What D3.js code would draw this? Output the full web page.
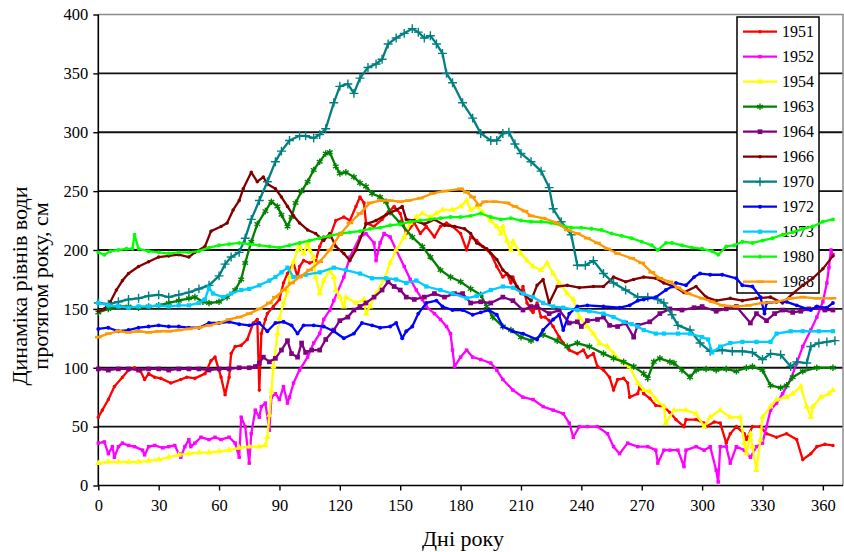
<!DOCTYPE html>
<html>
<head>
<meta charset="utf-8">
<script src="https://cdn.jsdelivr.net/npm/d3@7"></script>
<style>
  body { margin: 0; background: #fff; }
  svg { display: block; }
</style>
</head>
<body>
<svg id="chart" width="844" height="552"></svg>
<script>
// Axis ticks
const dayTicks = [0, 30, 60, 90, 120, 150, 180, 210, 240, 270, 300, 330, 360];
const levelTicks = [0, 50, 100, 150, 200, 250, 300, 350, 400];

// Years shown in the legend (drawing order)
const years = ["1951", "1952", "1954", "1963", "1964", "1966", "1970", "1972", "1973", "1980", "1988"];

// Water level (cm) by day of year, [day, level]
const level1951 = [[0,58],[2,64],[5,73],[8,84],[12,92],[15,98],[18,100],[21,97],[23,90],[25,95],[28,92],[31,91],[36,87],[41,90],[44,92],[48,91],[53,95],[56,106],[58,109],[61,92],[63,77],[65,92],[66,112],[68,118],[71,119],[74,124],[77,138],[79,141],[80,81],[81,129],[83,141],[84,146],[87,152],[90,158],[92,172],[94,180],[97,189],[99,177],[100,186],[102,191],[105,189],[108,191],[110,203],[112,211],[115,211],[118,225],[122,228],[125,225],[128,237],[130,245],[132,240],[133,223],[137,220],[141,226],[144,232],[147,237],[150,231],[153,214],[157,223],[160,214],[163,220],[167,211],[170,220],[173,223],[176,220],[180,214],[183,200],[185,211],[188,208],[191,203],[195,197],[198,186],[201,177],[203,180],[205,172],[206,177],[208,169],[210,163],[211,169],[213,155],[215,149],[216,147],[218,155],[220,143],[222,143],[224,140],[226,135],[229,126],[231,121],[234,115],[238,112],[241,115],[243,109],[246,112],[248,101],[251,98],[254,92],[256,81],[258,90],[261,91],[263,87],[264,75],[268,78],[269,84],[271,78],[274,74],[277,68],[281,67],[284,62],[287,56],[291,50],[292,56],[297,56],[301,53],[302,50],[306,54],[309,53],[312,36],[314,44],[317,50],[321,44],[322,39],[325,50],[329,50],[332,44],[337,41],[342,44],[347,39],[350,22],[354,27],[357,33],[361,35],[365,34]];

const level1952 = [[0,36],[3,37],[5,27],[7,33],[8,24],[10,33],[12,36],[15,34],[18,33],[22,30],[23,26],[25,33],[28,34],[32,32],[35,33],[38,34],[40,27],[41,24],[43,33],[45,39],[46,33],[48,36],[51,41],[55,39],[58,41],[61,39],[65,41],[68,36],[70,24],[71,58],[73,50],[75,19],[76,44],[78,64],[80,58],[81,67],[83,70],[85,47],[86,75],[88,78],[90,73],[92,84],[94,70],[95,75],[97,87],[100,98],[104,109],[107,121],[110,129],[112,141],[115,149],[117,157],[122,177],[125,194],[130,211],[133,214],[137,206],[138,191],[140,206],[142,214],[145,211],[148,200],[152,186],[155,175],[158,166],[161,158],[163,152],[167,146],[170,141],[173,135],[175,129],[176,115],[177,101],[180,109],[183,115],[186,109],[190,107],[195,104],[198,98],[201,90],[206,81],[211,75],[216,73],[221,67],[226,64],[231,61],[234,53],[236,41],[239,50],[243,50],[248,50],[253,44],[256,33],[259,27],[263,36],[268,33],[273,33],[277,30],[278,19],[281,30],[284,30],[288,30],[291,16],[292,30],[297,33],[301,30],[304,33],[307,13],[308,3],[309,33],[312,33],[314,19],[317,33],[321,30],[324,24],[327,33],[330,36],[332,50],[334,64],[337,70],[340,78],[344,90],[347,104],[350,118],[354,132],[357,143],[360,156],[362,172],[363,185],[364,200],[365,196]];

const level1954 = [[0,19],[5,20],[10,20],[15,20],[20,20],[25,21],[30,22],[35,24],[40,26],[45,27],[50,28],[55,28],[60,29],[65,30],[70,32],[75,33],[80,33],[83,34],[84,41],[85,60],[86,80],[87,101],[89,129],[90,142],[92,155],[94,165],[95,177],[97,190],[99,200],[100,203],[102,197],[104,206],[105,200],[107,194],[108,177],[110,163],[112,174],[115,183],[117,177],[118,166],[120,160],[122,152],[123,160],[128,155],[132,158],[133,146],[135,152],[138,163],[142,175],[145,189],[148,200],[152,211],[155,223],[158,228],[161,231],[165,228],[168,231],[171,234],[176,234],[180,237],[183,242],[185,234],[188,237],[191,232],[195,225],[198,220],[200,214],[201,220],[203,208],[205,200],[206,207],[210,197],[213,191],[216,186],[220,183],[223,189],[226,180],[229,172],[233,163],[236,158],[239,143],[243,135],[246,129],[249,121],[253,118],[256,112],[261,104],[264,101],[268,87],[271,81],[274,80],[277,73],[281,67],[282,53],[286,64],[292,64],[297,61],[301,50],[304,58],[309,64],[314,58],[319,58],[321,36],[322,27],[324,44],[325,33],[327,13],[329,39],[330,58],[334,67],[337,73],[342,75],[345,78],[349,84],[352,67],[354,58],[355,67],[359,75],[363,78],[365,81]];

const level1963 = [[0,147],[5,150],[10,152],[15,152],[20,151],[25,152],[30,153],[35,155],[40,157],[45,159],[48,160],[52,156],[55,155],[60,156],[64,160],[68,166],[71,175],[73,189],[76,207],[79,222],[83,233],[86,241],[89,237],[91,230],[94,220],[96,228],[98,240],[101,250],[104,258],[107,268],[110,275],[113,282],[115,283],[118,271],[120,265],[123,266],[127,262],[130,257],[133,254],[136,248],[140,245],[143,241],[145,232],[150,223],[156,211],[161,203],[165,194],[170,183],[175,177],[180,173],[185,167],[190,162],[193,152],[196,143],[201,135],[205,132],[210,126],[215,123],[221,128],[228,123],[233,118],[238,121],[244,118],[251,112],[256,108],[261,105],[266,101],[271,95],[273,91],[276,105],[279,108],[284,105],[286,104],[290,98],[294,92],[297,98],[302,99],[307,98],[312,99],[317,97],[322,100],[325,101],[330,98],[334,85],[339,83],[342,85],[345,92],[350,97],[357,100],[365,100]];

const level1964 = [[0,99],[5,98],[10,99],[15,99],[20,98],[25,99],[30,99],[35,98],[40,99],[45,99],[50,99],[55,98],[60,99],[65,99],[70,100],[75,100],[78,101],[80,104],[82,109],[85,105],[88,108],[91,115],[94,123],[96,112],[99,109],[101,121],[103,113],[106,115],[110,115],[113,124],[117,132],[120,140],[124,143],[127,149],[130,152],[133,155],[137,160],[141,166],[144,173],[147,169],[150,166],[153,160],[157,158],[162,160],[167,163],[172,160],[177,163],[181,163],[185,155],[190,156],[195,155],[201,160],[206,157],[211,149],[215,152],[218,152],[224,146],[229,149],[234,138],[238,139],[240,135],[243,140],[248,141],[251,143],[254,136],[258,135],[262,138],[266,126],[268,136],[274,139],[279,146],[284,150],[290,149],[296,151],[300,152],[307,148],[312,150],[317,152],[324,138],[327,146],[332,140],[336,146],[340,149],[345,147],[349,148],[353,150],[357,151],[361,149],[365,149]];

const level1966 = [[0,148],[3,150],[6,156],[9,166],[12,174],[15,180],[20,186],[25,190],[30,194],[35,195],[40,196],[45,194],[48,198],[53,203],[56,216],[61,220],[64,223],[67,234],[70,242],[72,252],[76,266],[79,258],[82,262],[84,256],[88,252],[91,245],[94,237],[97,229],[100,223],[104,217],[108,214],[112,208],[115,214],[118,203],[122,197],[125,191],[128,200],[133,222],[138,225],[143,230],[148,234],[151,237],[153,226],[157,225],[162,222],[167,226],[172,221],[177,220],[182,218],[185,214],[188,206],[193,201],[198,192],[201,183],[205,177],[208,169],[211,163],[215,157],[218,170],[221,175],[224,155],[228,169],[233,170],[239,168],[246,169],[251,169],[256,177],[262,173],[266,175],[271,177],[277,176],[281,172],[286,169],[291,164],[297,169],[302,160],[307,157],[314,159],[320,157],[327,159],[334,160],[340,155],[345,163],[350,170],[355,176],[360,184],[365,195]];

const level1970 = [[0,155],[5,154],[10,156],[15,158],[20,159],[25,161],[30,162],[35,160],[40,162],[45,164],[50,167],[55,170],[60,178],[63,188],[66,194],[70,198],[73,210],[76,226],[80,242],[84,258],[88,275],[91,284],[95,293],[100,297],[103,297],[107,295],[110,298],[113,303],[117,325],[120,339],[124,341],[127,333],[130,346],[134,355],[138,358],[141,362],[144,375],[148,380],[152,384],[156,388],[159,385],[162,380],[165,382],[168,375],[171,367],[173,350],[176,342],[181,325],[186,312],[190,299],[195,293],[198,293],[201,299],[204,300],[207,290],[210,282],[215,275],[220,267],[224,253],[226,235],[230,224],[235,213],[238,187],[242,187],[246,191],[251,180],[256,172],[262,166],[268,160],[273,160],[278,158],[281,155],[285,145],[288,136],[294,132],[299,121],[304,114],[310,115],[315,114],[320,114],[325,113],[330,107],[334,112],[339,111],[344,101],[347,105],[352,104],[354,118],[358,121],[362,122],[366,123]];

const level1972 = [[0,133],[5,134],[10,131],[15,132],[20,134],[25,135],[30,136],[35,135],[40,135],[45,134],[50,134],[55,138],[60,138],[65,139],[70,137],[75,136],[80,138],[84,131],[88,138],[92,139],[96,136],[99,129],[102,136],[107,136],[112,135],[117,131],[122,125],[127,129],[131,138],[136,136],[140,134],[145,135],[148,138],[151,125],[153,131],[156,135],[159,146],[163,155],[168,157],[171,152],[176,149],[181,149],[186,145],[190,147],[194,149],[198,145],[201,135],[206,131],[211,129],[218,124],[221,132],[226,141],[229,145],[231,132],[234,146],[238,152],[243,153],[251,152],[259,151],[264,153],[268,157],[271,158],[277,160],[282,166],[285,169],[287,172],[292,170],[296,177],[299,180],[304,179],[310,179],[317,176],[320,170],[325,169],[329,160],[331,146],[332,155],[337,156],[342,156],[347,153],[354,149],[357,152],[362,151],[365,155]];

const level1973 = [[0,155],[5,153],[10,152],[15,151],[20,152],[25,152],[30,153],[35,152],[40,153],[45,153],[50,155],[53,158],[55,168],[57,163],[62,160],[66,163],[71,166],[75,167],[80,170],[85,174],[88,177],[91,181],[94,185],[97,177],[103,179],[110,181],[117,185],[123,183],[130,180],[136,176],[143,176],[148,175],[153,172],[158,174],[163,169],[170,166],[176,163],[183,159],[188,161],[195,166],[201,169],[206,168],[211,163],[216,160],[221,155],[226,152],[231,151],[238,149],[244,148],[251,146],[256,143],[261,139],[265,137],[268,135],[271,132],[277,129],[281,129],[288,129],[294,129],[300,126],[303,124],[305,113],[309,118],[314,121],[320,122],[327,122],[334,122],[337,129],[344,131],[350,131],[358,131],[365,131]];

const level1980 = [[0,198],[3,196],[6,199],[10,200],[14,201],[17,201],[18,213],[20,201],[25,199],[30,198],[35,197],[40,198],[45,198],[50,199],[55,202],[60,204],[65,205],[70,206],[75,205],[80,204],[85,203],[90,202],[95,204],[100,206],[105,208],[110,210],[115,212],[120,214],[125,215],[130,216],[135,218],[140,219],[145,221],[150,222],[155,224],[160,225],[165,226],[170,227],[175,228],[180,228],[185,229],[190,231],[195,228],[200,226],[205,227],[210,225],[215,224],[220,224],[225,223],[230,221],[235,219],[240,219],[245,218],[250,217],[255,214],[260,212],[265,210],[270,207],[275,204],[278,200],[282,206],[285,206],[290,204],[295,202],[300,201],[305,199],[308,196],[312,203],[316,204],[320,207],[325,206],[330,208],[335,210],[340,213],[345,215],[350,218],[355,220],[360,224],[365,226]];

const level1988 = [[0,126],[5,129],[10,131],[15,130],[20,131],[25,130],[30,131],[35,131],[40,132],[45,133],[50,134],[55,136],[60,138],[65,141],[70,143],[75,146],[80,150],[85,155],[88,160],[92,166],[96,172],[100,177],[105,183],[110,190],[115,200],[120,213],[125,223],[130,231],[135,240],[140,242],[145,242],[150,241],[154,242],[160,244],[166,248],[172,250],[180,252],[183,249],[186,245],[189,238],[192,241],[197,241],[203,240],[207,237],[212,233],[215,229],[221,227],[228,223],[233,217],[238,214],[243,210],[248,206],[253,201],[258,197],[265,193],[270,189],[275,181],[279,176],[284,173],[288,168],[293,163],[300,159],[305,156],[310,153],[317,152],[323,153],[330,155],[337,156],[344,159],[350,160],[357,159],[365,159]];

const levels = [level1951, level1952, level1954, level1963, level1964, level1966, level1970, level1972, level1973, level1980, level1988];

// ---- styling ----
const colors = ["#FF0000", "#FF00FF", "#FFFF00", "#008000", "#800080", "#800000", "#008080", "#0000FF", "#00CCFF", "#00FF00", "#FF9900"];
const serif = "'Liberation Serif'";

const dash = {
  draw(ctx, size) {
    const w = Math.sqrt(size) * 0.9;
    ctx.moveTo(-w, -1.3); ctx.lineTo(w, -1.3); ctx.lineTo(w, 1.3); ctx.lineTo(-w, 1.3); ctx.closePath();
  }
};
const starType = d3.symbolAsterisk || d3.symbolCross;
const plusType = d3.symbolPlus || d3.symbolCross;
const markers = [
  { type: d3.symbolCircle,   size: 10, stroke: false },
  { type: d3.symbolSquare,   size: 12, stroke: false },
  { type: d3.symbolTriangle, size: 18, stroke: false },
  { type: starType,          size: 30, stroke: !!d3.symbolAsterisk },
  { type: d3.symbolSquare,   size: 22, stroke: false },
  { type: d3.symbolCircle,   size: 10, stroke: false },
  { type: plusType,          size: 28, stroke: !!d3.symbolPlus },
  { type: d3.symbolCircle,   size: 12, stroke: false },
  { type: d3.symbolSquare,   size: 18, stroke: false },
  { type: d3.symbolCircle,   size: 12, stroke: false },
  { type: dash,              size: 14, stroke: false }
];

const svg = d3.select("#chart");
const plot = { left: 98.3, right: 843, top: 14.5, bottom: 485.5 };

const x = d3.scaleLinear().domain([0, 370]).range([plot.left, plot.right]);
const y = d3.scaleLinear().domain([0, 400]).range([plot.bottom, plot.top]);

// horizontal gridlines
svg.append("g")
  .selectAll("line")
  .data(levelTicks.filter(v => v > 0 && v < 400))
  .join("line")
  .attr("x1", plot.left).attr("x2", plot.right)
  .attr("y1", d => y(d)).attr("y2", d => y(d))
  .attr("stroke", "#111").attr("stroke-width", 1.8);

// plot frame (top and right)
svg.append("path")
  .attr("d", `M${plot.left},${y(400)}H${plot.right}V${plot.bottom}`)
  .attr("fill", "none").attr("stroke", "#8c8c8c").attr("stroke-width", 1.5);

// axes
const yAxis = svg.append("g")
  .attr("transform", `translate(${plot.left},0)`)
  .call(d3.axisLeft(y).tickValues(levelTicks).tickSize(5).tickPadding(5).tickSizeOuter(0));
const xAxis = svg.append("g")
  .attr("transform", `translate(0,${plot.bottom})`)
  .call(d3.axisBottom(x).tickValues(dayTicks).tickSize(5).tickPadding(9).tickSizeOuter(0));
[yAxis, xAxis].forEach(g => {
  g.attr("font-family", null).attr("font-size", null);
  g.select(".domain").attr("stroke", "#000").attr("stroke-width", 1.6);
  g.selectAll(".tick line").attr("stroke", "#000").attr("stroke-width", 1.4);
  g.selectAll(".tick text").style("font-family", serif).style("font-size", "16.5px").attr("fill", "#000");
});
yAxis.select(".domain").attr("d", `M0,${plot.bottom}V${plot.top}`);
xAxis.select(".domain").attr("d", `M${plot.left},0H${plot.right}`);

// axis titles
svg.append("text")
  .attr("x", 463).attr("y", 546)
  .attr("text-anchor", "middle")
  .style("font-family", serif).style("font-size", "22px")
  .text("Дні року");
const yTitle = svg.append("text")
  .attr("transform", "translate(27,286) rotate(-90)")
  .attr("text-anchor", "middle")
  .style("font-family", serif).style("font-size", "22px");
yTitle.append("tspan").attr("x", 0).attr("dy", 0).text("Динаміка рівнів води");
yTitle.append("tspan").attr("x", 0).attr("dy", 21).text("протягом року, см");

function symbolPath(m) {
  return d3.symbol().type(m.type).size(m.size)();
}
function styleMarker(sel, i) {
  const m = markers[i];
  if (m.stroke) {
    sel.attr("fill", "none").attr("stroke", colors[i]).attr("stroke-width", 1.4);
  } else {
    sel.attr("fill", colors[i]).attr("stroke", "none");
  }
}

// legend (sits under the series lines)
const legend = svg.append("g");
legend.append("rect")
  .attr("x", 737).attr("y", 17).attr("width", 82).attr("height", 276)
  .attr("fill", "#fff").attr("stroke", "#000").attr("stroke-width", 1.5);
years.forEach((yr, i) => {
  const cy = 31.7 + 25 * i;
  legend.append("line")
    .attr("x1", 743).attr("x2", 777).attr("y1", cy).attr("y2", cy)
    .attr("stroke", colors[i]).attr("stroke-width", 2.2);
  legend.append("path")
    .attr("d", symbolPath(markers[i]))
    .attr("transform", `translate(760,${cy})`)
    .call(styleMarker, i);
  legend.append("text")
    .attr("x", 782).attr("y", cy).attr("dy", "0.35em")
    .style("font-family", serif).style("font-size", "16px")
    .text(yr);
});

// series
const line = d3.line().x(d => x(d[0])).y(d => y(d[1]));
levels.forEach((data, i) => {
  const g = svg.append("g").attr("class", "series");
  g.append("path")
    .datum(data)
    .attr("d", line)
    .attr("fill", "none")
    .attr("stroke", colors[i])
    .attr("stroke-width", 2.3)
    .attr("stroke-linejoin", "round");
  const sym = symbolPath(markers[i]);
  g.selectAll("path.mark")
    .data(data)
    .join("path")
    .attr("class", "mark")
    .attr("d", sym)
    .attr("transform", d => `translate(${x(d[0])},${y(d[1])})`)
    .call(styleMarker, i);
});
</script>
</body>
</html>
